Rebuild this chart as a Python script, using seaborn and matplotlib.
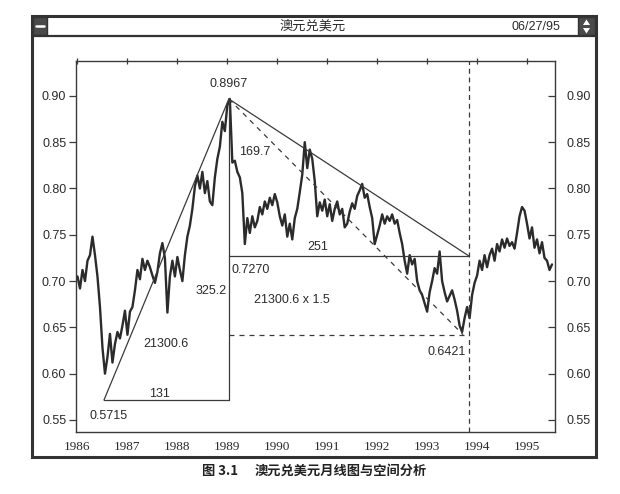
import numpy as np
import pandas as pd
import matplotlib
matplotlib.use("Agg")
import matplotlib.pyplot as plt
import seaborn as sns
from matplotlib.patches import Rectangle, Polygon
from matplotlib.lines import Line2D

# ---------------- data ----------------
rate = [
    0.705, 0.692, 0.712, 0.700, 0.722, 0.728, 0.748, 0.728, 0.705, 0.672,
    0.628, 0.600, 0.618, 0.643, 0.612, 0.632, 0.645, 0.638, 0.652, 0.668,
    0.642, 0.667, 0.672, 0.690, 0.712, 0.702, 0.724, 0.712, 0.722, 0.715,
    0.706, 0.698, 0.710, 0.730, 0.741, 0.725, 0.666, 0.705, 0.722, 0.705,
    0.726, 0.712, 0.700, 0.728, 0.748, 0.760, 0.778, 0.802, 0.814, 0.800,
    0.818, 0.795, 0.808, 0.786, 0.782, 0.812, 0.832, 0.845, 0.872, 0.862,
    0.890, 0.8967, 0.828, 0.830, 0.818, 0.812, 0.795, 0.740, 0.768, 0.752,
    0.770, 0.758, 0.765, 0.780, 0.772, 0.786, 0.778, 0.790, 0.782, 0.794,
    0.785, 0.770, 0.760, 0.772, 0.748, 0.762, 0.745, 0.768, 0.778, 0.796,
    0.815, 0.850, 0.822, 0.842, 0.832, 0.808, 0.770, 0.785, 0.776, 0.788,
    0.770, 0.783, 0.765, 0.778, 0.786, 0.772, 0.778, 0.758, 0.762, 0.775,
    0.784, 0.778, 0.792, 0.798, 0.805, 0.790, 0.794, 0.780, 0.768, 0.740,
    0.750, 0.760, 0.772, 0.762, 0.770, 0.765, 0.772, 0.762, 0.766, 0.752,
    0.740, 0.722, 0.708, 0.728, 0.718, 0.724, 0.700, 0.690, 0.685, 0.676,
    0.667, 0.688, 0.700, 0.714, 0.708, 0.732, 0.700, 0.688, 0.678, 0.684,
    0.690, 0.680, 0.668, 0.652, 0.645, 0.660, 0.672, 0.660, 0.685, 0.698,
    0.706, 0.722, 0.712, 0.728, 0.715, 0.728, 0.735, 0.722, 0.740, 0.732,
    0.745, 0.736, 0.746, 0.738, 0.742, 0.735, 0.752, 0.770, 0.780, 0.776,
    0.762, 0.746, 0.758, 0.736, 0.745, 0.730, 0.742, 0.725, 0.722, 0.712,
    0.718,
]
year = np.round(1986.0 + 0.05 * np.arange(len(rate)), 2)   # time index

y_ticks = [0.55, 0.60, 0.65, 0.70, 0.75, 0.80, 0.85, 0.90]
y_tick_labels = ["0.55", "0.60", "0.65", "0.70", "0.75", "0.80", "0.85", "0.90"]
x_ticks = [1986, 1987, 1988, 1989, 1990, 1991, 1992, 1993, 1994, 1995]
x_tick_labels = ["1986", "1987", "1988", "1989", "1990", "1991", "1992", "1993", "1994", "1995"]

low_year, low_val = 1986.53, 0.5715
peak_year, peak_val = 1989.03, 0.8967
end_year = 1993.84
support_val = 0.7270
target_year, target_val = 1993.72, 0.6421

title_text = "澳元兑美元"
date_text = "06/27/95"
caption_num = "图 3.1"
caption_text = "澳元兑美元月线图与空间分析"

# ---------------- style ----------------
sns.set_style("white")
plt.rcParams["font.family"] = ["DejaVu Sans", "Noto Sans CJK SC"]
INK = "#2b2b2b"
LINE = "#3a3a3a"
NARROW = ["Liberation Sans", "DejaVu Sans"]
SERIF = ["Liberation Serif", "DejaVu Serif"]
CJK = ["Noto Sans CJK SC", "DejaVu Sans"]

W, H = 620, 494
fig = plt.figure(figsize=(W / 100, H / 100), dpi=100)
fig.patch.set_facecolor("white")


def fx(px):
    return px / W


def fy(py):
    return 1 - py / H


ax = fig.add_axes([fx(76), fy(432), fx(555) - fx(76), fy(61) - fy(432)])
df = pd.DataFrame({"year": year, "rate": rate})
sns.lineplot(data=df, x="year", y="rate", ax=ax, color=INK, linewidth=1.7,
             estimator=None, sort=False)

ax.set_xlim(1985.97, 1995.56)
ax.set_ylim(0.537, 0.9377)
ax.set_xlabel("")
ax.set_ylabel("")

# analysis lines
lw = 0.9
ax.plot([low_year, peak_year], [low_val, low_val], color=LINE, lw=lw)
ax.plot([peak_year, peak_year], [low_val, peak_val], color=LINE, lw=lw)
ax.plot([low_year, peak_year], [low_val, peak_val], color=LINE, lw=lw)
ax.plot([peak_year, end_year], [support_val, support_val], color=LINE, lw=lw)
ax.plot([peak_year, end_year], [peak_val, support_val], color=LINE, lw=lw)
ax.plot([peak_year, target_year], [peak_val, target_val], color=LINE, lw=lw,
        ls=(0, (4, 4)))
ax.plot([peak_year, end_year], [target_val, target_val], color=LINE, lw=lw,
        ls=(0, (4, 4)))
ax.axvline(end_year, color=LINE, lw=lw, ls=(0, (4, 3)))

# annotation texts
tk = dict(fontsize=9, family=NARROW, color=INK, ha="center", va="center")
ax.text(peak_year, 0.913, f"{peak_val:.4f}", **tk)
ax.text(1986.62, 0.5543, f"{low_val:.4f}", **tk)
ax.text(1987.64, 0.578, "131", **tk)
ax.text(1987.78, 0.632, "21300.6", **tk)
ax.text(1988.67, 0.689, "325.2", **tk)
ax.text(1989.47, 0.712, f"{support_val:.4f}", **tk)
ax.text(1990.29, 0.680, "21300.6 x 1.5", **tk)
ax.text(1990.81, 0.737, "251", **tk)
ax.text(1989.55, 0.839, "169.7", **tk)
ax.text(1993.39, 0.623, f"{target_val:.4f}", **tk)

# axes / ticks
for s in ax.spines.values():
    s.set_color(LINE)
    s.set_linewidth(1.0)
ax.set_yticks(y_ticks)
ax.set_yticklabels(y_tick_labels, family=NARROW, fontsize=9, color=INK)
ax.set_xticks(x_ticks)
ax.set_xticklabels(x_tick_labels, family=SERIF, fontsize=9.5, color=INK)
ax.tick_params(axis="y", direction="out", length=5, width=0.9, color=LINE, pad=2)
ax.tick_params(axis="x", direction="inout", length=5, width=0.9, color=LINE,
               pad=4, top=True)

ax2 = ax.twinx()
ax2.set_ylim(ax.get_ylim())
ax2.set_yticks(y_ticks)
ax2.set_yticklabels(y_tick_labels, family=NARROW, fontsize=9, color=INK)
ax2.tick_params(axis="y", direction="in", length=5, width=0.9, color=LINE, pad=8)
for s in ax2.spines.values():
    s.set_visible(False)

# window frame
fig.patches.append(Rectangle((fx(32), fy(457)), fx(596) - fx(32), fy(16) - fy(457),
                             transform=fig.transFigure, fill=False, lw=2.2,
                             ec="#333333"))
fig.lines.append(Line2D([fx(32), fx(596)], [fy(36), fy(36)],
                        transform=fig.transFigure, lw=1.6, color="#333333"))
# left icon
fig.patches.append(Rectangle((fx(33), fy(35)), fx(47) - fx(33), fy(17) - fy(35),
                             transform=fig.transFigure, fc="#4a4a4a", ec="#333333",
                             lw=1))
fig.lines.append(Line2D([fx(36), fx(44)], [fy(26), fy(26)],
                        transform=fig.transFigure, lw=1.8, color="white"))
# right icon
fig.patches.append(Rectangle((fx(578), fy(35)), fx(595) - fx(578), fy(17) - fy(35),
                             transform=fig.transFigure, fc="#4a4a4a", ec="#333333",
                             lw=1))
fig.patches.append(Polygon([[fx(583), fy(25)], [fx(590), fy(25)], [fx(586.5), fy(19.5)]],
                           closed=True, transform=fig.transFigure, fc="white", ec="none"))
fig.patches.append(Polygon([[fx(583), fy(28)], [fx(590), fy(28)], [fx(586.5), fy(33.5)]],
                           closed=True, transform=fig.transFigure, fc="white", ec="none"))

fig.text(fx(313), fy(26.5), title_text, ha="center", va="center", fontsize=9.5,
         family=CJK, color=INK)
fig.text(fx(536), fy(27), date_text, ha="center", va="center", fontsize=9,
         family=NARROW, color=INK)

# caption
fig.text(fx(220), fy(471), caption_num, ha="center", va="center", fontsize=9.5,
         family=CJK, fontweight="bold", color="#222222")
fig.text(fx(341), fy(471), caption_text, ha="center", va="center", fontsize=9.5,
         family=CJK, fontweight="bold", color="#222222")

fig.savefig("out.png", dpi=100, facecolor="white")
